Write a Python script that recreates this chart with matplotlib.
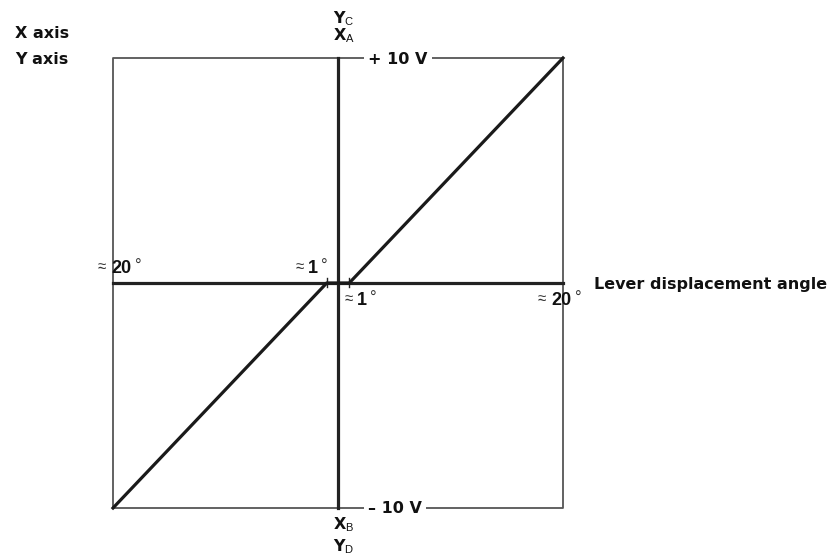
import matplotlib
matplotlib.use("Agg")
import matplotlib.pyplot as plt

# characteristic: lever displacement angle (deg) -> output voltage (V)
lever_angle = [-20, -1, 1, 20]
output_voltage = [-10, 0, 0, 10]

angle_range = [-20, 20]
volt_range = [-10, 10]
dead_zone = [-1, 1]

plt.rcParams['mathtext.fontset'] = 'custom'
plt.rcParams['mathtext.bf'] = 'DejaVu Sans:bold'
plt.rcParams['mathtext.rm'] = 'Liberation Sans'

W, H = 830, 557
fig = plt.figure(figsize=(W / 100, H / 100), dpi=100)
# plot square sits at pixels x 113..563, y 58..508
ax = fig.add_axes([113 / W, (H - 508) / H, 450 / W, 450 / H])
ax.set_xlim(angle_range)
ax.set_ylim(volt_range)
ax.axis('off')


def px(x, y):
    # pixel position in the picture -> data coords, only used for labels
    return (x - 338) / 11.25, (283 - y) / 22.5


LBL = dict(family='DejaVu Sans', fontweight='bold', fontsize=11.5, color='#111111')

# outer box
ax.plot([angle_range[0], angle_range[1], angle_range[1], angle_range[0], angle_range[0]],
        [volt_range[0], volt_range[0], volt_range[1], volt_range[1], volt_range[0]],
        color='#555555', lw=1.3, clip_on=False, zorder=1)
# axes
ax.plot(angle_range, [0, 0], color='#222222', lw=2.3, clip_on=False, zorder=2)
ax.plot([0, 0], volt_range, color='#222222', lw=2.3, clip_on=False, zorder=2)
# dead zone ticks
for a in dead_zone:
    ax.plot([a, a], [-0.18, 0.22], color='#222222', lw=1.0, zorder=2)
# characteristic
ax.plot(lever_angle, output_voltage, color='#1a1a1a', lw=2.3, clip_on=False, zorder=3)

# left labels
x, y = px(15, 37.7)
ax.text(x, y, 'X axis', ha='left', va='baseline', clip_on=False, **LBL)
x, y = px(15, 64.5)
ax.text(x, y, 'Y axis', ha='left', va='baseline', clip_on=False, **LBL)
x, y = px(594, 288.7)
ax.text(x, y, 'Lever displacement angle', ha='left', va='baseline', clip_on=False, **LBL)

# voltage labels breaking the box line
for txt, yy in [('+ 10 V', 64), ('\u2013 10 V', 513)]:
    x, y = px(368, yy)
    ax.text(x, y, txt, ha='left', va='baseline', clip_on=False, zorder=5,
            bbox=dict(facecolor='white', edgecolor='none', pad=3), **LBL)

# channel labels
for txt, yy in [(r'$\mathbf{Y}_{\mathrm{C}}$', 23), (r'$\mathbf{X}_{\mathrm{A}}$', 40),
                (r'$\mathbf{X}_{\mathrm{B}}$', 529), (r'$\mathbf{Y}_{\mathrm{D}}$', 551)]:
    x, y = px(333, yy)
    ax.text(x, y, txt, ha='left', va='baseline', fontsize=11.5, color='#111111', clip_on=False)

# approx angle labels: (number, number centre px, baseline px)
approx_labels = [('20', 121, 273), ('1', 313, 273), ('1', 362, 305), ('20', 561.5, 305)]
for num, cx, base in approx_labels:
    half = 10 if len(num) == 2 else 4
    x, y = px(cx, base)
    ax.text(x, y, num, ha='center', va='baseline', family='Liberation Sans',
            fontweight='bold', fontsize=13, color='#111111', clip_on=False)
    x, y = px(cx - half - 5, base - 2)
    ax.text(x, y, '\u2248', ha='right', va='baseline', family='Liberation Sans',
            fontsize=11, color='#333333', clip_on=False)
    x, y = px(cx + half + 4, base - 2)
    ax.text(x, y, '\u00b0', ha='left', va='baseline', family='Liberation Sans',
            fontsize=12, color='#333333', clip_on=False)

fig.savefig('out.png', dpi=100)
